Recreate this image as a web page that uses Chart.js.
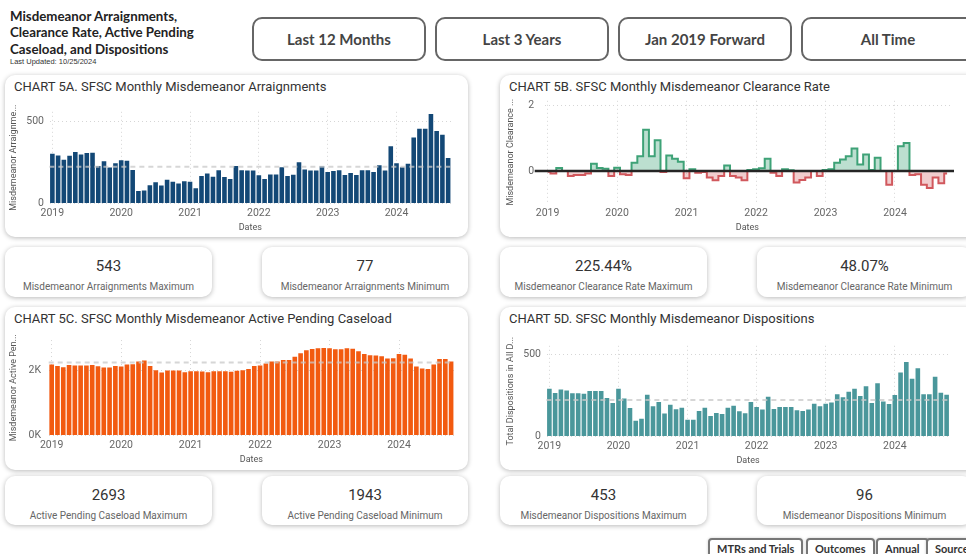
<!DOCTYPE html>
<html>
<head>
<meta charset="utf-8">
<script src="https://cdn.jsdelivr.net/npm/chart.js@4.4.1/dist/chart.umd.min.js"></script>
<style>
  body { margin: 0; width: 966px; height: 554px; overflow: hidden; background: #fff; position: relative; font-family: Roboto, sans-serif; }
  .card { position: absolute; background: #fff; border-radius: 10px; box-shadow: 0 1px 5px rgba(0,0,0,0.28); }
  .ctitle { position: absolute; left: 9px; top: 4px; font-size: 13px; color: #333; white-space: nowrap; }
  .wrap { position: absolute; }
  .kpi { position: absolute; background: #fff; border-radius: 10px; box-shadow: 0 1px 5px rgba(0,0,0,0.28); text-align: center; }
  .kpi .v { font-size: 15px; color: #333; margin-top: 10px; }
  .kpi .l { font-size: 10px; color: #666; margin-top: 6px; }
  .hdr { position: absolute; left: 10px; top: 8px; font-family: Lato, sans-serif; font-weight: bold; font-size: 13.3px; line-height: 16.3px; color: #222; }
  .upd { position: absolute; left: 10px; top: 57px; font-family: "Liberation Sans", sans-serif; font-size: 7.5px; color: #333; }
  .btn { position: absolute; top: 17px; height: 40px; border: 2px solid #666; border-radius: 10px; font-family: Lato, sans-serif; font-weight: bold; font-size: 15px; color: #444; text-align: center; line-height: 40px; background: #fff; }
  .nav { position: absolute; top: 538px; height: 20px; border: 2px solid #777; border-radius: 4px; font-family: Lato, sans-serif; font-weight: bold; font-size: 11px; color: #333; line-height: 17px; padding: 0 7px; background: #fff; box-shadow: 0 0 3px rgba(0,0,0,0.2); }
</style>
</head>
<body>

<div class="hdr">Misdemeanor Arraignments,<br>Clearance Rate, Active Pending<br>Caseload, and Dispositions</div>
<div class="upd">Last Updated: 10/25/2024</div>
<div class="btn" style="left:252px;width:170px;">Last 12 Months</div>
<div class="btn" style="left:435px;width:170px;">Last 3 Years</div>
<div class="btn" style="left:618px;width:170px;">Jan 2019 Forward</div>
<div class="btn" style="left:801px;width:170px;">All Time</div>

<div class="card" style="left:5px;top:75px;width:463px;height:162px;"><div class="ctitle">CHART 5A. SFSC Monthly Misdemeanor Arraignments</div></div>
<div class="card" style="left:500px;top:75px;width:480px;height:162px;"><div class="ctitle">CHART 5B. SFSC Monthly Misdemeanor Clearance Rate</div></div>
<div class="card" style="left:5px;top:307px;width:463px;height:163px;"><div class="ctitle">CHART 5C. SFSC Monthly Misdemeanor Active Pending Caseload</div></div>
<div class="card" style="left:500px;top:307px;width:480px;height:163px;"><div class="ctitle">CHART 5D. SFSC Monthly Misdemeanor Dispositions</div></div>

<div class="wrap" style="left:8px;top:100px;width:455px;height:133px;"><canvas id="chartA"></canvas></div>
<div class="wrap" style="left:505px;top:84px;width:456px;height:149px;"><canvas id="chartB"></canvas></div>
<div class="wrap" style="left:8px;top:326px;width:455px;height:139px;"><canvas id="chartC"></canvas></div>
<div class="wrap" style="left:505px;top:334px;width:452px;height:132px;"><canvas id="chartD"></canvas></div>

<div class="kpi" style="left:5px;top:247px;width:207px;height:50px;"><div class="v">543</div><div class="l">Misdemeanor Arraignments Maximum</div></div>
<div class="kpi" style="left:262px;top:247px;width:206px;height:50px;"><div class="v">77</div><div class="l">Misdemeanor Arraignments Minimum</div></div>
<div class="kpi" style="left:500px;top:247px;width:207px;height:50px;"><div class="v">225.44%</div><div class="l">Misdemeanor Clearance Rate Maximum</div></div>
<div class="kpi" style="left:757px;top:247px;width:215px;height:50px;"><div class="v">48.07%</div><div class="l">Misdemeanor Clearance Rate Minimum</div></div>

<div class="kpi" style="left:5px;top:476px;width:207px;height:49px;"><div class="v">2693</div><div class="l">Active Pending Caseload Maximum</div></div>
<div class="kpi" style="left:262px;top:476px;width:206px;height:49px;"><div class="v">1943</div><div class="l">Active Pending Caseload Minimum</div></div>
<div class="kpi" style="left:500px;top:476px;width:207px;height:49px;"><div class="v">453</div><div class="l">Misdemeanor Dispositions Maximum</div></div>
<div class="kpi" style="left:757px;top:476px;width:215px;height:49px;"><div class="v">96</div><div class="l">Misdemeanor Dispositions Minimum</div></div>

<div class="nav" style="left:708px;">MTRs and Trials</div>
<div class="nav" style="left:806px;">Outcomes</div>
<div class="nav" style="left:876px;">Annual</div>
<div class="nav" style="left:926px;">Sources</div>

<script>
(() => {
  // ---- DATA (Jan 2019 .. Oct 2024) ----
  const years = ["2019", "2020", "2021", "2022", "2023", "2024"];
  const months = [];
  years.forEach(y => {
    for (let m = 1; m <= 12; m++) {
      if (y === "2024" && m > 10) break;
      months.push(y + "-" + String(m).padStart(2, "0"));
    }
  });

  const arraignments = [
    302, 292, 266, 290, 312, 298, 306, 308, 228, 256, 218, 244,
    262, 260, 204, 77, 79, 111, 129, 109, 145, 133, 121, 135,
    133, 93, 167, 183, 163, 202, 161, 149, 228, 202, 200, 200,
    171, 149, 177, 177, 220, 167, 175, 250, 206, 200, 200, 226,
    192, 198, 202, 173, 186, 173, 202, 202, 192, 232, 200, 347,
    244, 220, 242, 400, 454, 454, 543, 440, 417, 276
  ];

  // clearance rate minus 1 (0 = 100%)
  const clearance = [
    -0.02, -0.08, 0.09, 0, -0.15, -0.12, -0.12, -0.08, 0.22, 0.09, 0.07, -0.15,
    0.1, -0.1, -0.12, 0.25, 0.45, 1.2544, 0.45, 0.93, -0.03, 0.47, 0.37, 0.28,
    -0.22, 0.05, -0.05, -0.03, -0.2, -0.28, -0.15, 0.17, -0.15, -0.2, -0.28, 0.03,
    0.05, 0.08, 0.37, -0.05, -0.15, 0.05, 0.02, -0.35, -0.27, -0.2, 0, -0.15,
    0.03, 0.05, 0.25, 0.35, 0.45, 0.68, 0.2, 0.5, 0.03, 0.4, 0, -0.42,
    0, 0.75, 0.85, -0.12, -0.1, -0.42, -0.5193, -0.2, -0.37, -0.08
  ];

  const pending = [
    2186, 2145, 2105, 2176, 2155, 2155, 2155, 2176, 2136, 2095, 2095, 2145,
    2125, 2186, 2196, 2277, 2308, 2145, 2013, 1943, 2003, 2003, 2003, 1952,
    1982, 1982, 1972, 1952, 1982, 1982, 1982, 1962, 1993, 2013, 2053, 2145,
    2155, 2217, 2277, 2277, 2329, 2329, 2430, 2532, 2623, 2664, 2690, 2693,
    2690, 2654, 2654, 2685, 2674, 2592, 2511, 2470, 2461, 2440, 2369, 2379,
    2511, 2491, 2369, 2125, 2064, 2053, 2186, 2359, 2359, 2277
  ];

  const dispositions = [
    291, 265, 287, 281, 263, 263, 261, 277, 277, 277, 235, 204,
    291, 231, 174, 96, 109, 255, 184, 210, 140, 194, 166, 176,
    103, 103, 156, 176, 125, 144, 138, 176, 188, 154, 142, 210,
    180, 164, 243, 168, 180, 180, 180, 160, 156, 164, 200, 184,
    200, 208, 257, 239, 273, 291, 247, 306, 204, 324, 213, 198,
    253, 389, 453, 352, 415, 257, 257, 364, 267, 255
  ];

  const FONT = "Roboto, sans-serif";

  // ---- AVERAGE LINE PLUGIN ----
  const avgLine = {
    id: "avgLine",
    afterDatasetsDraw(chart) {
      const { ctx, chartArea, scales } = chart;
      const vals = chart.data.datasets[0].data;
      const avg = vals.reduce((a, b) => a + b, 0) / vals.length;
      const y = scales.y.getPixelForValue(avg);
      ctx.save();
      ctx.beginPath();
      ctx.setLineDash([5, 4]);
      ctx.lineWidth = 2;
      ctx.strokeStyle = "rgba(200,200,200,0.75)";
      ctx.moveTo(scales.x.getPixelForValue(0) - 3, y);
      ctx.lineTo(chartArea.right, y);
      ctx.stroke();
      ctx.restore();
    }
  };

  // ---- 0 LINE PLUGIN ----
  const zeroLine = {
    id: "zeroLine",
    afterDatasetsDraw(chart) {
      const { ctx, chartArea, scales } = chart;
      const y = scales.y.getPixelForValue(0);
      ctx.save();
      ctx.beginPath();
      ctx.lineWidth = 2.5;
      ctx.strokeStyle = "#252525";
      ctx.moveTo(chartArea.left - 10, y);
      ctx.lineTo(chartArea.right + 4, y);
      ctx.stroke();
      ctx.restore();
    }
  };

  function xAxis() {
    return {
      offset: true,
      grid: {
        offset: false,
        drawTicks: false,
        lineWidth: 1,
        color: c => (c.index % 12 === 0 ? "#d6d6d6" : "rgba(0,0,0,0)")
      },
      border: { display: false, dash: [1, 3] },
      ticks: {
        autoSkip: false,
        maxRotation: 0,
        padding: 3,
        color: "#666",
        font: { family: FONT, size: 10.5 },
        callback: (v, i) => (i % 12 === 0 ? months[i].slice(0, 4) : "")
      },
      title: { display: true, text: "Dates", color: "#555", font: { family: FONT, size: 9 }, padding: { top: 0, bottom: 0 } }
    };
  }

  function yAxis(title, min, max, tickVals, fmt, pad) {
    return {
      min: min,
      max: max,
      afterBuildTicks: s => { s.ticks = tickVals.map(v => ({ value: v })); },
      grid: { drawTicks: false, color: "#d6d6d6", lineWidth: 1 },
      border: { display: false, dash: [1, 3] },
      ticks: { padding: pad, color: "#666", font: { family: FONT, size: 10.5 }, callback: fmt },
      title: { display: true, text: title, color: "#555", font: { family: FONT, size: 9 }, padding: { top: 0, bottom: 2 } }
    };
  }

  function barChart(id, data, color, yTitle, max, tickVals, fmt, pad, rightPad) {
    return new Chart(document.getElementById(id), {
      type: "bar",
      data: {
        labels: months,
        datasets: [{
          data: data,
          backgroundColor: color,
          categoryPercentage: 1,
          barPercentage: 0.8
        }]
      },
      options: {
        responsive: true,
        maintainAspectRatio: false,
        animation: false,
        layout: { padding: { top: 4, right: rightPad } },
        plugins: { legend: { display: false }, tooltip: { enabled: false } },
        scales: {
          x: xAxis(),
          y: yAxis(yTitle, 0, max, tickVals, fmt, pad)
        }
      },
      plugins: [avgLine]
    });
  }

  // ---- CHARTS ----
  barChart("chartA", arraignments, "#134876", "Misdemeanor Arraignme...", 556, [0, 500], v => v, 5.5, 12);
  barChart("chartC", pending, "#f25a10", "Misdemeanor Active Pen...", 2940, [0, 2000], v => v / 1000 + "K", 7.75, 9);
  barChart("chartD", dispositions, "#4a979b", "Total Dispositions in All D...", 552, [0, 500], v => v, 5.5, 7.5);

  new Chart(document.getElementById("chartB"), {
    type: "line",
    data: {
      labels: months,
      datasets: [
        {
          data: clearance.map(v => Math.max(v, 0)),
          stepped: "middle",
          borderColor: "#3ea277",
          backgroundColor: "rgba(62,162,119,0.35)",
          borderWidth: 2,
          pointRadius: 0,
          fill: "origin"
        },
        {
          data: clearance.map(v => Math.min(v, 0)),
          stepped: "middle",
          borderColor: "#d1585d",
          backgroundColor: "rgba(209,88,93,0.3)",
          borderWidth: 2,
          pointRadius: 0,
          fill: "origin"
        }
      ]
    },
    options: {
      responsive: true,
      maintainAspectRatio: false,
      animation: false,
      layout: { padding: { top: 4, right: 11 } },
      plugins: { legend: { display: false }, tooltip: { enabled: false } },
      scales: {
        x: xAxis(),
        y: yAxis("Misdemeanor Clearance ...", -0.99, 2.13, [0, 2], v => v, 10.5)
      }
    },
    plugins: [zeroLine]
  });
})();
</script>
</body>
</html>
